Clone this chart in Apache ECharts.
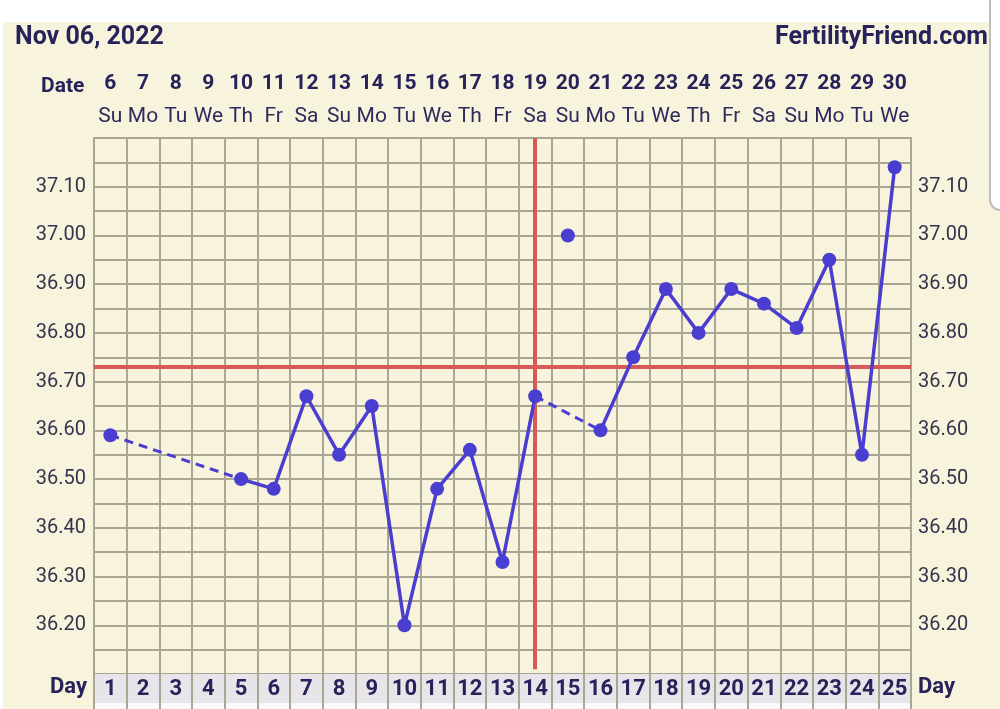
<!DOCTYPE html>
<html>
<head>
<meta charset="utf-8">
<script src="https://cdn.jsdelivr.net/npm/echarts@6/dist/echarts.min.js"></script>
<style>
  html, body { margin: 0; padding: 0; background: #ffffff; }
  #chart { width: 1000px; height: 709px; }
</style>
</head>
<body>
<div id="chart"></div>
<script>
// cycle days, calendar dates and weekdays
var cycleDays = ['1','2','3','4','5','6','7','8','9','10','11','12','13','14','15','16','17','18','19','20','21','22','23','24','25'];
var dates = ['6','7','8','9','10','11','12','13','14','15','16','17','18','19','20','21','22','23','24','25','26','27','28','29','30'];
var weekdays = ['Su','Mo','Tu','We','Th','Fr','Sa','Su','Mo','Tu','We','Th','Fr','Sa','Su','Mo','Tu','We','Th','Fr','Sa','Su','Mo','Tu','We'];

// temperatures (null = not recorded)
var temps = [36.59, null, null, null, 36.50, 36.48, 36.67, 36.55, 36.65, 36.20,
             36.48, 36.56, 36.33, 36.67, 37.00, 36.60, 36.75, 36.89, 36.80, 36.89,
             36.86, 36.81, 36.95, 36.55, 37.14];
var discardedDays = ['15'];

var coverline = 36.725;
var ovulationDay = '14';

var NAVY = '#27235a';
var BLUE = '#4a3ed0';
var RED = '#d65a58';
var GRIDC = '#a9a693';
var CREAM = '#f7f3dc';

// split into solid line, discarded point and dashed gap links
var solid = [], discarded = [], dashed = [];
var used = [];
temps.forEach(function (t, i) {
    var skip = discardedDays.indexOf(cycleDays[i]) >= 0;
    solid.push(skip ? null : t);
    if (skip && t != null) discarded.push([cycleDays[i], t]);
    if (!skip && t != null) used.push(i);
});
for (var k = 1; k < used.length; k++) {
    var a = used[k - 1], b = used[k];
    if (b - a > 1) {
        dashed.push({
            type: 'line', xAxisIndex: 0, yAxisIndex: 0, symbol: 'none', silent: true,
            lineStyle: { color: BLUE, width: 3, type: [9, 6] },
            data: [[cycleDays[a], temps[a]], [cycleDays[b], temps[b]]],
            z: 3
        });
    }
}

function yFmt(v) {
    var c = Math.round(v * 100);
    if (c % 10 !== 0 || c < 3620 || c > 3710) return '';
    return (c / 100).toFixed(2);
}

var chart = echarts.init(document.getElementById('chart'));
var option = {
    backgroundColor: CREAM,
    animation: false,
    textStyle: { fontFamily: 'Roboto' },
    graphic: [
        { type: 'rect', shape: { x: 0, y: 0, width: 1000, height: 22 }, style: { fill: '#ffffff' }, z: -1 },
        { type: 'rect', shape: { x: 0, y: 0, width: 3, height: 709 }, style: { fill: '#ffffff' }, z: -1 },
        { type: 'rect', shape: { x: 990, y: -20, width: 40, height: 230, r: 10 }, style: { fill: '#ffffff', stroke: '#bdbdbd', lineWidth: 2 }, z: 10 },
        { type: 'text', left: 15, top: 25, style: { text: 'Nov 06, 2022', fontSize: 25, fontWeight: 'bold', fill: NAVY, fontFamily: 'Roboto' } },
        { type: 'text', right: 12, top: 25, style: { text: 'FertilityFriend.com', fontSize: 25, fontWeight: 'bold', fill: NAVY, fontFamily: 'Roboto' } },
        { type: 'text', left: 41, top: 76, style: { text: 'Date', fontSize: 21, fontWeight: 'bold', fill: NAVY, fontFamily: 'Roboto' } },
        { type: 'text', left: 50, top: 676, style: { text: 'Day', fontSize: 22, fontWeight: 'bold', fill: NAVY, fontFamily: 'Roboto' } },
        { type: 'text', left: 918, top: 676, style: { text: 'Day', fontSize: 22, fontWeight: 'bold', fill: NAVY, fontFamily: 'Roboto' } }
    ],
    grid: [
        { left: 94, right: 89, top: 138, height: 536, show: true, borderColor: GRIDC, borderWidth: 2, backgroundColor: 'transparent' },
        { left: 94, right: 89, top: 674, height: 29, show: true, borderColor: GRIDC, borderWidth: 2 },
        { left: 94, right: 89, top: 703, height: 12, show: true, borderColor: GRIDC, borderWidth: 2 }
    ],
    xAxis: [
        {
            type: 'category', gridIndex: 0, data: cycleDays, boundaryGap: true, position: 'bottom',
            axisLine: { show: false }, axisTick: { show: false }, axisLabel: { show: false },
            splitLine: { show: true, interval: 0, lineStyle: { color: GRIDC, width: 2 } }
        },
        {
            type: 'category', gridIndex: 0, data: dates, boundaryGap: true, position: 'top',
            axisLine: { show: false }, axisTick: { show: false },
            axisLabel: {
                interval: 0, margin: 5,
                formatter: function (v, i) { return '{d|' + v + '}\n{w|' + weekdays[i] + '}'; },
                rich: {
                    d: { fontSize: 21, fontWeight: 'bold', color: NAVY, lineHeight: 33, fontFamily: 'Roboto' },
                    w: { fontSize: 21, color: '#2e2a5c', lineHeight: 33, fontFamily: 'Roboto' }
                }
            }
        },
        {
            type: 'category', gridIndex: 1, data: cycleDays, boundaryGap: true, position: 'top',
            axisLine: { show: false }, axisTick: { show: false },
            axisLabel: { interval: 0, inside: true, margin: 4, fontSize: 22, fontWeight: 'bold', color: NAVY, fontFamily: 'Roboto' },
            splitLine: { show: true, interval: 0, lineStyle: { color: GRIDC, width: 2 } },
            splitArea: { show: true, interval: 0, areaStyle: { color: ['#e7e5e9'] } }
        },
        {
            type: 'category', gridIndex: 2, data: cycleDays, boundaryGap: true,
            axisLine: { show: false }, axisTick: { show: false }, axisLabel: { show: false },
            splitLine: { show: true, interval: 0, lineStyle: { color: GRIDC, width: 2 } },
            splitArea: { show: true, interval: 0, areaStyle: { color: ['#fbfafa'] } }
        }
    ],
    yAxis: [
        {
            type: 'value', gridIndex: 0, min: 36.10, max: 37.20, interval: 0.05, position: 'left',
            axisLine: { show: false }, axisTick: { show: false },
            axisLabel: { formatter: yFmt, fontSize: 20, color: '#36334f', margin: 8, fontFamily: 'Roboto' },
            splitLine: { show: true, lineStyle: { color: GRIDC, width: 2 } }
        },
        {
            type: 'value', gridIndex: 0, min: 36.10, max: 37.20, interval: 0.05, position: 'right',
            axisLine: { show: false }, axisTick: { show: false },
            axisLabel: { formatter: yFmt, fontSize: 20, color: '#36334f', margin: 7, fontFamily: 'Roboto' },
            splitLine: { show: false }
        },
        { type: 'value', gridIndex: 1, show: false },
        { type: 'value', gridIndex: 2, show: false }
    ],
    series: [
        {
            type: 'line', xAxisIndex: 0, yAxisIndex: 0, data: solid, connectNulls: false,
            symbol: 'circle', symbolSize: 14, showAllSymbol: true,
            itemStyle: { color: BLUE }, lineStyle: { color: BLUE, width: 3.5 }, z: 4,
            markLine: {
                silent: true, symbol: 'none', label: { show: false },
                lineStyle: { color: RED, width: 4, type: 'solid' },
                data: [
                    { yAxis: coverline },
                    [{ coord: [ovulationDay, 37.20] }, { coord: [ovulationDay, 36.11] }]
                ],
                z: 2
            }
        },
        {
            type: 'scatter', xAxisIndex: 0, yAxisIndex: 0, data: discarded,
            symbolSize: 14, itemStyle: { color: BLUE, opacity: 1 }, z: 4
        }
    ].concat(dashed)
};
chart.setOption(option);
</script>
</body>
</html>
